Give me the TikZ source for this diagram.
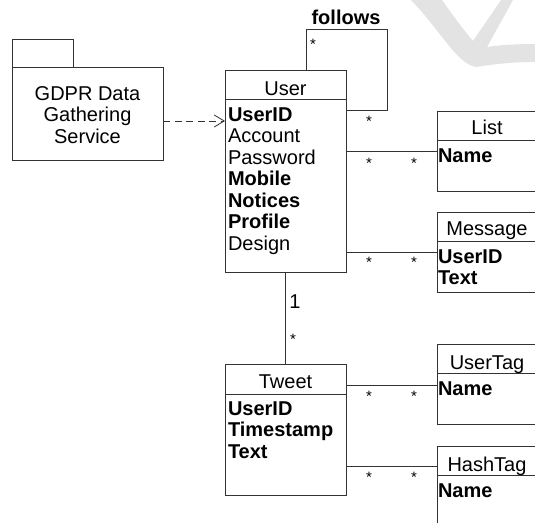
\documentclass[tikz,border=0pt]{standalone}
\usepackage{fontspec}
\setmainfont{Liberation Sans}
\usetikzlibrary{arrows.meta,calc}
\begin{document}
\begin{tikzpicture}[x=1pt,y=-1pt,
  every node/.style={inner sep=0pt,outer sep=0pt},
  box/.style={draw=black!80,line width=0.8pt,rectangle,anchor=north west,fill=white},
  sep/.style={draw=black!80,line width=0.8pt},
  conn/.style={draw=black!80,line width=0.8pt},
  dep/.style={conn,dash pattern=on 7pt off 4.5pt,-{Straight Barb[length=10pt,width=12pt]}},
  head/.style={font=\fontsize{20}{21.5}\selectfont,anchor=base},
  attr/.style={font=\fontsize{20}{21.5}\selectfont,anchor=base west},
  battr/.style={font=\fontsize{20}{21.5}\selectfont\bfseries,anchor=base west},
  mult/.style={font=\fontsize{15}{15}\selectfont,anchor=center},
  mone/.style={font=\fontsize{20}{21.5}\selectfont,anchor=base}
]
\useasboundingbox (0,0) rectangle (535,522);
\clip (0,0) rectangle (535,522);
\fill[white] (0,0) rectangle (535,522);
% watermark
\fill[black!11] (411,0) .. controls (432,22) and (446,44) .. (458,56)
  .. controls (464,62) and (470,66) .. (476,67)
  .. controls (500,63) and (520,62) .. (535,62) -- (535,44)
  .. controls (518,44) and (500,45) .. (487,47)
  -- (513,0) -- (501,0) -- (473,41)
  .. controls (462,28) and (452,14) .. (442,0) -- cycle;

% package
\node[box,minimum width=61pt,minimum height=28pt] (pkgtab) at (12,39) {};
\node[box,minimum width=151pt,minimum height=93pt] (pkg) at (12,67) {};
\node[font=\fontsize{20}{21.5}\selectfont,align=center,anchor=center] (pkgname) at (87.5,115) {GDPR Data\\Gathering\\Service};

% classes
\node[box,minimum width=121pt,minimum height=202pt] (user) at (225,70) {};
\draw[sep] ($(user.north west)+(0,29)$) -- ($(user.north east)+(0,29)$);
\node[box,minimum width=121pt,minimum height=131pt] (tweet) at (225,364) {};
\draw[sep] ($(tweet.north west)+(0,30)$) -- ($(tweet.north east)+(0,30)$);
\node[box,minimum width=100pt,minimum height=80pt] (list) at (437,111) {};
\draw[sep] ($(list.north west)+(0,29)$) -- ($(list.north east)+(0,29)$);
\node[box,minimum width=100pt,minimum height=80pt] (message) at (437,212) {};
\draw[sep] ($(message.north west)+(0,29)$) -- ($(message.north east)+(0,29)$);
\node[box,minimum width=100pt,minimum height=80pt] (usertag) at (437,344) {};
\draw[sep] ($(usertag.north west)+(0,29)$) -- ($(usertag.north east)+(0,29)$);
\node[box,minimum width=100pt,minimum height=90pt] (hashtag) at (437,446) {};
\draw[sep] ($(hashtag.north west)+(0,29)$) -- ($(hashtag.north east)+(0,29)$);

% User text
\node[head] (userT) at (285.5,95) {User};
\node[battr] (u1) at (228,121) {UserID};
\node[attr] (u2) at (228,142.5) {Account};
\node[attr] (u3) at (228,164) {Password};
\node[battr] (u4) at (228,185.5) {Mobile};
\node[battr] (u5) at (228,207) {Notices};
\node[battr] (u6) at (228,228.5) {Profile};
\node[attr] (u7) at (228,250) {Design};

% Tweet text
\node[head] (tweetT) at (285.5,388) {Tweet};
\node[battr] (t1) at (228,415) {UserID};
\node[battr] (t2) at (228,436.5) {Timestamp};
\node[battr] (t3) at (228,458) {Text};

% right classes text
\node[head] (listT) at (487,134) {List};
\node[battr] (l1) at (438,162) {Name};
\node[head] (messageT) at (487,235) {Message};
\node[battr] (m1) at (438,263) {UserID};
\node[battr] (m2) at (438,284.5) {Text};
\node[head] (usertagT) at (487,369) {UserTag};
\node[battr] (ut1) at (438,395) {Name};
\node[head] (hashtagT) at (487,471) {HashTag};
\node[battr] (h1) at (438,497) {Name};

% connectors
\draw[dep] ($(pkg.north east)+(0,54)$) -- ($(user.north west)+(0,51)$);
\draw[conn] ($(user.north west)+(81,0)$) |- ($(user.north east)+(41,-41)$) |- ($(user.north east)+(0,40)$);
\node[font=\fontsize{20}{21.5}\selectfont\bfseries,anchor=base] (follows) at (346,24) {follows};
\node[mult] (f1) at (313,44) {*};
\node[mult] (f2) at (369,121) {*};

\draw[conn] ($(user.north east)+(0,81)$) -- ($(list.north west)+(0,40)$);
\node[mult] (ul1) at (369,163) {*};
\node[mult] (ul2) at (414,163) {*};

\draw[conn] ($(user.north east)+(0,182)$) -- ($(message.north west)+(0,40)$);
\node[mult] (um1) at (369,262) {*};
\node[mult] (um2) at (414,262) {*};

\draw[conn] (user.south) -- (tweet.north);
\node[mone] (ut1m) at (295,308) {1};
\node[mult] (ut2m) at (293,339) {*};

\draw[conn] ($(tweet.north east)+(0,21)$) -- ($(usertag.north west)+(0,41)$);
\node[mult] (tu1) at (369,396) {*};
\node[mult] (tu2) at (414,396) {*};

\draw[conn] ($(tweet.north east)+(0,102)$) -- ($(hashtag.north west)+(0,20)$);
\node[mult] (th1) at (369,477) {*};
\node[mult] (th2) at (414,477) {*};
\end{tikzpicture}
\end{document}
